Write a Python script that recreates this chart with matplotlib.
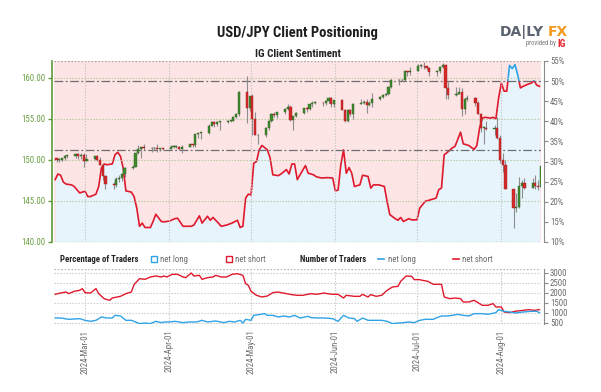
import matplotlib
matplotlib.use('Agg')
import matplotlib.pyplot as plt
import matplotlib.dates as mdates
from matplotlib import font_manager
from matplotlib.patches import Rectangle
from matplotlib.lines import Line2D
import numpy as np
import pandas as pd

names = set(font_manager.get_font_names())
if 'Roboto Condensed' in names:
    plt.rcParams['font.family'] = ['Roboto Condensed', 'DejaVu Sans']
else:
    plt.rcParams['font.family'] = ['DejaVu Sans']
    plt.rcParams['font.stretch'] = 'condensed'

# ---- USD/JPY daily candles ----
candle_dates = ['2024-02-19', '2024-02-20', '2024-02-21', '2024-02-22', '2024-02-23', '2024-02-26', '2024-02-27',
                '2024-02-28', '2024-02-29', '2024-03-01', '2024-03-04', '2024-03-05', '2024-03-06', '2024-03-07',
                '2024-03-08', '2024-03-11', '2024-03-12', '2024-03-13', '2024-03-14', '2024-03-15', '2024-03-18',
                '2024-03-19', '2024-03-20', '2024-03-21', '2024-03-22', '2024-03-25', '2024-03-26', '2024-03-27',
                '2024-03-28', '2024-03-29', '2024-04-01', '2024-04-02', '2024-04-03', '2024-04-04', '2024-04-05',
                '2024-04-08', '2024-04-09', '2024-04-10', '2024-04-11', '2024-04-12', '2024-04-15', '2024-04-16',
                '2024-04-17', '2024-04-18', '2024-04-19', '2024-04-22', '2024-04-23', '2024-04-24', '2024-04-25',
                '2024-04-26', '2024-04-29', '2024-04-30', '2024-05-01', '2024-05-02', '2024-05-03', '2024-05-06',
                '2024-05-07', '2024-05-08', '2024-05-09', '2024-05-10', '2024-05-13', '2024-05-14', '2024-05-15',
                '2024-05-16', '2024-05-17', '2024-05-20', '2024-05-21', '2024-05-22', '2024-05-23', '2024-05-24',
                '2024-05-27', '2024-05-28', '2024-05-29', '2024-05-30', '2024-05-31', '2024-06-03', '2024-06-04',
                '2024-06-05', '2024-06-06', '2024-06-07', '2024-06-10', '2024-06-11', '2024-06-12', '2024-06-13',
                '2024-06-14', '2024-06-17', '2024-06-18', '2024-06-19', '2024-06-20', '2024-06-21', '2024-06-24',
                '2024-06-25', '2024-06-26', '2024-06-27', '2024-06-28', '2024-07-01', '2024-07-02', '2024-07-03',
                '2024-07-04', '2024-07-05', '2024-07-08', '2024-07-09', '2024-07-10', '2024-07-11', '2024-07-12',
                '2024-07-15', '2024-07-16', '2024-07-17', '2024-07-18', '2024-07-19', '2024-07-22', '2024-07-23',
                '2024-07-24', '2024-07-25', '2024-07-26', '2024-07-29', '2024-07-30', '2024-07-31', '2024-08-01',
                '2024-08-02', '2024-08-05', '2024-08-06', '2024-08-07', '2024-08-08', '2024-08-09', '2024-08-12',
                '2024-08-13', '2024-08-14', '2024-08-15']
opens = [150.2, 150.0, 150.0, 150.3, 150.5, 150.5, 150.7, 150.5, 150.6, 149.9, 150.1, 150.5, 150.0, 149.4,
         148.0, 147.1, 146.9, 147.7, 147.8, 148.3, 149.0, 149.1, 150.8, 151.3, 151.6, 151.4, 151.4, 151.5,
         151.3, 151.4, 151.35, 151.6, 151.6, 151.6, 151.3, 151.6, 151.9, 151.8, 153.2, 153.3, 153.3, 154.2,
         154.6, 154.4, 154.6, 154.6, 154.8, 154.8, 155.3, 155.6, 158.3, 156.3, 157.8, 155.0, 153.0, 153.0,
         153.9, 154.7, 155.6, 155.5, 155.8, 156.2, 156.4, 154.9, 155.4, 155.7, 156.3, 156.2, 156.8, 157.0,
         157.0, 156.9, 157.2, 157.6, 156.8, 157.3, 156.1, 154.8, 156.1, 155.6, 156.8, 157.0, 157.1, 156.7,
         157.0, 157.4, 157.7, 157.9, 158.1, 158.9, 159.8, 159.7, 159.7, 160.8, 160.7, 160.9, 161.5, 161.5,
         161.4, 161.2, 160.7, 160.8, 161.3, 161.6, 158.8, 157.9, 158.1, 158.3, 156.2, 157.4, 157.5, 157.0,
         155.6, 153.9, 153.9, 153.8, 153.9, 152.7, 150.0, 149.4, 146.5, 144.2, 144.3, 146.8, 147.2, 146.6,
         147.2, 146.8, 146.7]
highs = [150.3, 150.2, 150.3, 150.6, 150.6, 150.8, 150.8, 150.8, 150.9, 150.7, 150.5, 150.6, 150.4, 149.5,
         148.2, 147.3, 147.9, 148.2, 148.4, 149.2, 149.4, 150.9, 151.8, 151.5, 151.9, 151.6, 151.6, 152.0,
         151.4, 151.5, 151.8, 151.8, 151.8, 151.7, 151.8, 152.0, 152.0, 153.2, 153.3, 153.4, 154.4, 154.8,
         154.8, 154.7, 154.7, 154.9, 154.9, 155.4, 155.7, 158.4, 160.2, 157.8, 158.0, 155.9, 153.2, 154.0,
         154.7, 155.7, 155.9, 155.9, 156.3, 156.8, 156.7, 155.4, 155.8, 156.3, 156.4, 156.8, 157.2, 157.2,
         157.1, 157.3, 157.7, 157.7, 157.3, 157.4, 156.2, 156.2, 156.2, 157.0, 157.4, 157.3, 157.4, 157.2,
         158.2, 157.8, 158.0, 158.2, 159.0, 159.9, 159.9, 159.9, 160.9, 160.9, 161.3, 161.7, 161.7, 161.9,
         161.5, 161.3, 161.0, 161.4, 161.8, 161.7, 159.5, 158.9, 158.9, 158.8, 157.5, 157.9, 157.7, 157.2,
         155.7, 154.2, 154.7, 154.3, 155.2, 153.1, 150.9, 150.0, 146.5, 146.0, 147.9, 147.5, 147.8, 147.8,
         148.2, 147.6, 149.4]
lows = [149.7, 149.7, 149.9, 150.0, 150.2, 150.3, 150.1, 150.1, 149.2, 149.9, 150.0, 149.9, 149.4, 147.6,
        146.5, 146.5, 146.7, 147.3, 147.4, 147.9, 148.9, 149.1, 150.7, 150.3, 151.2, 151.0, 151.2, 151.0,
        151.1, 151.2, 151.3, 151.5, 151.4, 151.2, 150.8, 151.6, 151.6, 151.6, 152.7, 152.6, 153.2, 154.1,
        154.0, 154.2, 153.6, 154.5, 154.6, 154.8, 155.1, 155.4, 154.5, 156.0, 153.0, 153.0, 151.9, 152.8,
        153.7, 154.6, 155.2, 155.1, 155.6, 156.1, 154.7, 153.6, 155.2, 155.6, 155.8, 156.1, 156.5, 156.8,
        156.6, 156.7, 157.0, 156.4, 156.4, 156.1, 154.6, 154.6, 155.4, 155.0, 156.8, 156.8, 155.7, 156.6,
        156.4, 157.3, 157.6, 157.8, 157.9, 158.8, 159.2, 159.6, 159.6, 160.3, 160.4, 160.8, 161.2, 161.1,
        161.0, 160.3, 160.2, 160.6, 161.2, 157.4, 157.4, 157.8, 158.0, 155.4, 155.6, 157.2, 156.6, 155.6,
        153.4, 151.9, 153.6, 153.0, 152.6, 149.6, 148.5, 146.4, 141.7, 143.6, 144.2, 145.4, 146.4, 146.6,
        146.4, 146.3, 146.5]
closes = [150.0, 150.0, 150.3, 150.5, 150.5, 150.7, 150.5, 150.6, 149.9, 150.1, 150.5, 150.0, 149.4, 148.0,
          147.1, 146.9, 147.7, 147.8, 148.3, 149.0, 149.1, 150.8, 151.3, 151.6, 151.4, 151.4, 151.5, 151.3,
          151.4, 151.35, 151.6, 151.6, 151.6, 151.3, 151.6, 151.9, 151.8, 153.2, 153.3, 153.3, 154.2, 154.6,
          154.4, 154.6, 154.6, 154.8, 154.8, 155.3, 155.6, 158.3, 156.3, 157.8, 155.0, 153.0, 153.0, 153.9,
          154.7, 155.6, 155.5, 155.8, 156.2, 156.4, 154.9, 155.4, 155.7, 156.3, 156.2, 156.8, 157.0, 157.0,
          156.9, 157.2, 157.6, 156.8, 157.3, 156.1, 154.8, 156.1, 155.6, 156.8, 157.0, 157.1, 156.7, 157.0,
          157.4, 157.7, 157.9, 158.1, 158.9, 159.8, 159.7, 159.7, 160.8, 160.7, 160.9, 161.5, 161.5, 161.4,
          161.2, 160.7, 160.8, 161.3, 161.6, 158.8, 157.9, 158.1, 158.3, 156.2, 157.4, 157.5, 157.0, 155.6,
          153.9, 153.9, 153.8, 153.9, 152.7, 150.0, 149.4, 146.5, 144.2, 144.3, 146.8, 147.2, 146.6, 147.2,
          146.8, 146.7, 149.3]

# ---- IG client sentiment: % of traders net long ----
sent_dates = ['2024-02-19', '2024-02-20', '2024-02-21', '2024-02-22', '2024-02-23', '2024-02-25', '2024-02-26',
              '2024-02-28', '2024-03-01', '2024-03-02', '2024-03-03', '2024-03-05', '2024-03-06', '2024-03-07',
              '2024-03-08', '2024-03-09', '2024-03-11', '2024-03-12', '2024-03-13', '2024-03-14', '2024-03-15',
              '2024-03-16', '2024-03-18', '2024-03-19', '2024-03-20', '2024-03-21', '2024-03-22', '2024-03-23',
              '2024-03-25', '2024-03-26', '2024-03-27', '2024-03-29', '2024-03-30', '2024-04-01', '2024-04-03',
              '2024-04-04', '2024-04-06', '2024-04-09', '2024-04-10', '2024-04-12', '2024-04-13', '2024-04-15',
              '2024-04-16', '2024-04-17', '2024-04-19', '2024-04-20', '2024-04-22', '2024-04-24', '2024-04-26',
              '2024-04-27', '2024-04-28', '2024-04-29', '2024-04-30', '2024-05-01', '2024-05-02', '2024-05-03',
              '2024-05-04', '2024-05-05', '2024-05-07', '2024-05-08', '2024-05-09', '2024-05-11', '2024-05-12',
              '2024-05-14', '2024-05-15', '2024-05-16', '2024-05-17', '2024-05-18', '2024-05-19', '2024-05-21',
              '2024-05-22', '2024-05-24', '2024-05-25', '2024-05-27', '2024-05-29', '2024-05-31', '2024-06-01',
              '2024-06-02', '2024-06-03', '2024-06-04', '2024-06-05', '2024-06-06', '2024-06-07', '2024-06-08',
              '2024-06-10', '2024-06-11', '2024-06-13', '2024-06-14', '2024-06-15', '2024-06-17', '2024-06-19',
              '2024-06-20', '2024-06-21', '2024-06-23', '2024-06-24', '2024-06-25', '2024-06-26', '2024-06-28',
              '2024-06-29', '2024-07-01', '2024-07-02', '2024-07-04', '2024-07-06', '2024-07-08', '2024-07-09',
              '2024-07-10', '2024-07-11', '2024-07-12', '2024-07-14', '2024-07-15', '2024-07-17', '2024-07-18',
              '2024-07-20', '2024-07-22', '2024-07-23', '2024-07-24', '2024-07-25', '2024-07-26', '2024-07-28',
              '2024-07-29', '2024-07-30', '2024-07-31', '2024-08-01', '2024-08-02', '2024-08-03', '2024-08-04',
              '2024-08-05', '2024-08-06', '2024-08-07', '2024-08-08', '2024-08-09', '2024-08-11', '2024-08-12',
              '2024-08-13', '2024-08-14', '2024-08-15']
net_long_pct = [25.5, 26.9, 26.6, 24.9, 24.4, 24.2, 23.8, 22.2, 22.6, 21.3, 21.3, 21.9, 23.8, 28.4,
                29.4, 29.2, 29.4, 31.7, 32.3, 31.3, 28.4, 22.7, 22.4, 21.3, 18.4, 13.9, 14.7, 13.6,
                13.6, 15.1, 16.9, 15.1, 15.0, 15.2, 15.8, 15.9, 13.9, 13.9, 14.2, 16.5, 14.7, 16.4,
                15.4, 16.1, 14.7, 13.9, 14.2, 14.7, 15.4, 13.6, 13.9, 20.9, 21.9, 21.7, 29.6, 30.0,
                32.9, 34.0, 32.9, 30.9, 26.7, 26.5, 26.9, 28.0, 26.9, 29.4, 29.4, 25.5, 26.7, 29.0,
                27.1, 26.7, 26.2, 25.9, 26.0, 25.9, 22.7, 22.9, 29.2, 32.9, 27.1, 28.5, 27.1, 23.8,
                24.2, 26.6, 26.3, 23.4, 24.2, 24.2, 23.8, 20.1, 16.8, 15.8, 15.4, 16.1, 15.1, 15.8,
                15.5, 15.5, 18.4, 20.1, 20.5, 20.9, 23.0, 23.4, 31.7, 32.2, 33.4, 33.8, 37.3, 34.4,
                34.0, 33.0, 34.0, 38.3, 40.8, 41.0, 40.8, 41.0, 40.6, 45.8, 49.5, 47.5, 47.5, 53.9,
                53.1, 54.1, 51.6, 48.3, 48.7, 49.3, 49.5, 50.1, 49.0, 48.7]

# ---- number of traders ----
short_dates = ['2024-02-19', '2024-02-21', '2024-02-23', '2024-02-24', '2024-02-26', '2024-02-28', '2024-02-29',
               '2024-03-01', '2024-03-03', '2024-03-05', '2024-03-06', '2024-03-08', '2024-03-10', '2024-03-11',
               '2024-03-14', '2024-03-16', '2024-03-18', '2024-03-19', '2024-03-21', '2024-03-23', '2024-03-25',
               '2024-03-27', '2024-03-29', '2024-03-30', '2024-03-31', '2024-04-02', '2024-04-04', '2024-04-06',
               '2024-04-07', '2024-04-09', '2024-04-10', '2024-04-12', '2024-04-13', '2024-04-15', '2024-04-17',
               '2024-04-18', '2024-04-20', '2024-04-22', '2024-04-24', '2024-04-26', '2024-04-28', '2024-04-29',
               '2024-04-30', '2024-05-01', '2024-05-03', '2024-05-05', '2024-05-07', '2024-05-09', '2024-05-11',
               '2024-05-12', '2024-05-14', '2024-05-16', '2024-05-18', '2024-05-20', '2024-05-23', '2024-05-25',
               '2024-05-28', '2024-05-29', '2024-05-31', '2024-06-02', '2024-06-04', '2024-06-05', '2024-06-08',
               '2024-06-10', '2024-06-11', '2024-06-13', '2024-06-14', '2024-06-16', '2024-06-18', '2024-06-20',
               '2024-06-22', '2024-06-24', '2024-06-25', '2024-06-27', '2024-06-29', '2024-06-30', '2024-07-02',
               '2024-07-03', '2024-07-05', '2024-07-07', '2024-07-08', '2024-07-10', '2024-07-11', '2024-07-13',
               '2024-07-15', '2024-07-17', '2024-07-18', '2024-07-20', '2024-07-22', '2024-07-24', '2024-07-25',
               '2024-07-27', '2024-07-29', '2024-07-30', '2024-08-01', '2024-08-02', '2024-08-04', '2024-08-06',
               '2024-08-09', '2024-08-11', '2024-08-13', '2024-08-15']
net_short_count = [1933, 2000, 2050, 1967, 2083, 2133, 2217, 2017, 2000, 2217, 1967, 1717, 1633, 1750,
                   1833, 1967, 2050, 2417, 2717, 2683, 2800, 2850, 2800, 2850, 2800, 2933, 2933, 2800,
                   2767, 3000, 2850, 2883, 2683, 2767, 2800, 2883, 2800, 2800, 2933, 2967, 2883, 2467,
                   2383, 2083, 1883, 1800, 1850, 2017, 2050, 2017, 1967, 1917, 1883, 1883, 1967, 1933,
                   2000, 1967, 1933, 1933, 1750, 1883, 1833, 1833, 1933, 1800, 1917, 1833, 1883, 2133,
                   2300, 2333, 2583, 2850, 2833, 2667, 2667, 2633, 2583, 2433, 2433, 2433, 1800, 1717,
                   1750, 1717, 1550, 1550, 1633, 1467, 1383, 1383, 1467, 1300, 1300, 1050, 1017, 1083,
                   1133, 1167, 1133, 1167]
long_dates = ['2024-02-19', '2024-02-21', '2024-02-24', '2024-02-28', '2024-03-01', '2024-03-03', '2024-03-05',
              '2024-03-07', '2024-03-09', '2024-03-11', '2024-03-12', '2024-03-14', '2024-03-16', '2024-03-18',
              '2024-03-19', '2024-03-21', '2024-03-23', '2024-03-25', '2024-03-27', '2024-03-29', '2024-03-30',
              '2024-04-01', '2024-04-03', '2024-04-06', '2024-04-08', '2024-04-11', '2024-04-13', '2024-04-15',
              '2024-04-17', '2024-04-18', '2024-04-21', '2024-04-23', '2024-04-25', '2024-04-27', '2024-04-28',
              '2024-04-29', '2024-05-01', '2024-05-02', '2024-05-04', '2024-05-06', '2024-05-07', '2024-05-09',
              '2024-05-11', '2024-05-13', '2024-05-15', '2024-05-17', '2024-05-19', '2024-05-22', '2024-05-23',
              '2024-05-26', '2024-05-28', '2024-05-31', '2024-06-02', '2024-06-04', '2024-06-06', '2024-06-08',
              '2024-06-09', '2024-06-11', '2024-06-13', '2024-06-16', '2024-06-18', '2024-06-20', '2024-06-22',
              '2024-06-24', '2024-06-25', '2024-06-28', '2024-06-30', '2024-07-02', '2024-07-04', '2024-07-07',
              '2024-07-08', '2024-07-10', '2024-07-12', '2024-07-14', '2024-07-16', '2024-07-18', '2024-07-20',
              '2024-07-22', '2024-07-25', '2024-07-27', '2024-07-30', '2024-07-31', '2024-08-02', '2024-08-04',
              '2024-08-06', '2024-08-09', '2024-08-12', '2024-08-14', '2024-08-15']
net_long_count = [750, 750, 683, 717, 633, 583, 633, 800, 750, 750, 883, 850, 633, 633,
                  583, 467, 500, 467, 583, 517, 550, 550, 583, 517, 550, 550, 633, 550,
                  583, 600, 517, 583, 550, 633, 500, 683, 633, 883, 917, 967, 883, 883,
                  800, 850, 800, 883, 750, 833, 767, 750, 750, 717, 583, 883, 750, 717,
                  583, 750, 633, 633, 633, 583, 467, 500, 500, 550, 517, 633, 683, 683,
                  750, 850, 850, 883, 933, 883, 850, 967, 967, 933, 1017, 1167, 1083, 1050,
                  1000, 1050, 1083, 1083, 1017]

ref_levels = [159.63, 151.22]
pct_ticks = [10, 15, 20, 25, 30, 35, 40, 45, 50, 55]
price_ticks = [140, 145, 150, 155, 160]
count_ticks = [500, 1000, 1500, 2000, 2500, 3000]

RED = '#e0192d'
BLUE = '#2ea3e6'
GREEN_AX = '#5f9a3c'
GREY_T = '#6b6b6b'
TS = 6.3  # tick label size

x0 = pd.Timestamp('2024-02-18 14:00')
x1 = pd.Timestamp('2024-08-15 14:00')

fig = plt.figure(figsize=(6.01, 3.92), dpi=100)

# ---------- main panel ----------
ax = fig.add_axes([0.0899, 0.3827, 0.8103, 0.4617])
sd = pd.to_datetime(sent_dates)
sp = np.array(net_long_pct)
ax.set_facecolor('#fde4e5')
ax.fill_between(sd, 10, sp, color='#e7f4fc', lw=0, zorder=1)
ax.set_xlim(x0, x1)
ax.set_ylim(10, 55)

axp = ax.twinx()
ax.yaxis.tick_right()
axp.yaxis.tick_left()
axp.set_ylim(140, 162.07)
axp.set_xlim(x0, x1)

xn0 = mdates.date2num(x0)
xn1 = mdates.date2num(x1)
lr, = ax.plot(sd, sp, color=RED, lw=1.2, zorder=5)
lb, = ax.plot(sd, sp, color=BLUE, lw=1.2, zorder=5)
lr.set_clip_path(Rectangle((xn0 - 5, 0), xn1 - xn0 + 10, 50, transform=ax.transData))
lb.set_clip_path(Rectangle((xn0 - 5, 50), xn1 - xn0 + 10, 20, transform=ax.transData))

# grids
for p in price_ticks:
    axp.axhline(p, color='#b8c79e', lw=0.8, ls=(0, (1.2, 1.5)), zorder=0.5)
for m in pd.date_range('2024-03-01', '2024-08-01', freq='MS'):
    axp.axvline(m, color='#c4c4c4', lw=0.8, ls=(0, (1.2, 1.5)), zorder=0.5)
for r in ref_levels:
    axp.axhline(r, color='#6e6e6e', lw=0.9, ls=(0, (7, 2, 1.5, 2)), zorder=0.6)

# candles
cd = pd.to_datetime(candle_dates) + pd.Timedelta(hours=12)
o = np.array(opens); h = np.array(highs); l = np.array(lows); c = np.array(closes)
up = c >= o
body = np.maximum(np.abs(c - o), 0.1)
axp.vlines(cd, l, h, color='#8d8d8d', lw=0.8, zorder=3)
axp.bar(cd[up], body[up], bottom=o[up], width=0.8, color='#3f8d2c', edgecolor='#2a5a1f', lw=0.3, zorder=4)
axp.bar(cd[~up], body[~up], bottom=c[~up], width=0.8, color='#d42a2a', edgecolor='#a31d1d', lw=0.3, zorder=4)

# axis styling
for s in ['left', 'top', 'bottom']:
    ax.spines[s].set_visible(False)
for s in ['right', 'top', 'bottom']:
    axp.spines[s].set_visible(False)
ax.spines['right'].set_color('#8a8a8a')
ax.spines['right'].set_position(('outward', 2))
axp.spines['left'].set_color(GREEN_AX)
axp.spines['left'].set_linewidth(1.2)
axp.spines['left'].set_position(('outward', 1.5))
for yy in (55, 10):
    ax.axhline(yy, color='#a0a0a0', lw=0.9, ls=(0, (1.2, 1.5)), zorder=6)

ax.set_yticks(pct_ticks)
ax.set_yticklabels(['%d%%' % v for v in pct_ticks])
ax.tick_params(axis='y', right=True, left=False, length=3, width=0.8, color='#8a8a8a',
               labelsize=TS, labelcolor=GREY_T, pad=1.5)
axp.set_yticks(price_ticks)
axp.set_yticklabels(['%.2f' % v for v in price_ticks])
axp.tick_params(axis='y', left=True, right=False, length=3, width=1, color=GREEN_AX,
                labelsize=TS, labelcolor='#6a9f45', pad=1.5)
ax.set_xticks([])

# ---------- traders panel ----------
ax2 = fig.add_axes([0.0899, 0.1735, 0.8103, 0.1403])
ax2.plot(pd.to_datetime(short_dates), net_short_count, color=RED, lw=1.0)
ax2.plot(pd.to_datetime(long_dates), net_long_count, color=BLUE, lw=1.0)
ax2.set_xlim(x0, x1)
ax2.set_ylim(450, 3200)
for s in ['left', 'top', 'bottom']:
    ax2.spines[s].set_visible(False)
ax2.spines['right'].set_color('#8a8a8a')
ax2.spines['right'].set_position(('outward', 2))
for v in count_ticks:
    ax2.axhline(v, color='#c8c8c8', lw=0.8, ls=(0, (1.2, 1.5)), zorder=0)
for yy in (3200, 450):
    ax2.axhline(yy, color='#b0b0b0', lw=0.9, ls=(0, (1.2, 1.5)), zorder=0)
for m in pd.date_range('2024-03-01', '2024-08-01', freq='MS'):
    ax2.axvline(m, color='#c8c8c8', lw=0.8, ls=(0, (1.2, 1.5)), zorder=0)
ax2.yaxis.tick_right()
ax2.set_yticks(count_ticks)
ax2.tick_params(axis='y', right=True, left=False, length=3, width=0.8, color='#8a8a8a',
                labelsize=TS, labelcolor=GREY_T, pad=1.5)
ax2.xaxis.set_major_locator(mdates.MonthLocator())
ax2.xaxis.set_major_formatter(mdates.DateFormatter('%Y-%b-%d'))
ax2.tick_params(axis='x', length=0, labelsize=TS, labelcolor=GREY_T, rotation=90, pad=4)

# ---------- titles / logo ----------
fig.text(0.495, 0.915, 'USD/JPY Client Positioning', ha='center', va='center',
         fontsize=10.5, fontweight='bold', color='#1e1e1e')
fig.text(0.495, 0.862, 'IG Client Sentiment', ha='center', va='center',
         fontsize=8, fontweight='bold', color='#222222')
fig.text(0.832, 0.918, 'DA|LY', ha='left', va='center', fontsize=10, fontweight='bold',
         color='#5b6470', family='DejaVu Sans', fontstretch='normal')
fig.text(0.912, 0.918, 'FX', ha='left', va='center', fontsize=10, fontweight='bold',
         color='#f39a1e', family='DejaVu Sans', fontstretch='normal')
fig.text(0.925, 0.888, 'provided by', ha='right', va='center', fontsize=4.8, color='#777777')
fig.text(0.928, 0.888, 'IG', ha='left', va='center', fontsize=7, fontweight='bold', color='#e4202a')

# ---------- legend row ----------
ly = 1 - 259 / 392
fig.text(60 / 601, ly, 'Percentage of Traders', ha='left', va='center', fontsize=6.3,
         fontweight='bold', color='#222222')
fig.patches.append(Rectangle((151 / 601, ly - 0.0085), 6 / 601, 6 / 392, transform=fig.transFigure,
                             facecolor='white', edgecolor=BLUE, lw=1.0))
fig.text(160 / 601, ly, 'net long', ha='left', va='center', fontsize=6.3, color=GREY_T)
fig.patches.append(Rectangle((226 / 601, ly - 0.0085), 6 / 601, 6 / 392, transform=fig.transFigure,
                             facecolor='white', edgecolor=RED, lw=1.0))
fig.text(235 / 601, ly, 'net short', ha='left', va='center', fontsize=6.3, color=GREY_T)
fig.text(300 / 601, ly, 'Number of Traders', ha='left', va='center', fontsize=6.3,
         fontweight='bold', color='#222222')
fig.lines.append(Line2D([378 / 601, 384 / 601], [ly, ly], transform=fig.transFigure, color=BLUE, lw=1.2))
fig.text(388 / 601, ly, 'net long', ha='left', va='center', fontsize=6.3, color=GREY_T)
fig.lines.append(Line2D([453 / 601, 459 / 601], [ly, ly], transform=fig.transFigure, color=RED, lw=1.2))
fig.text(462 / 601, ly, 'net short', ha='left', va='center', fontsize=6.3, color=GREY_T)

fig.savefig('out.png', dpi=100)
